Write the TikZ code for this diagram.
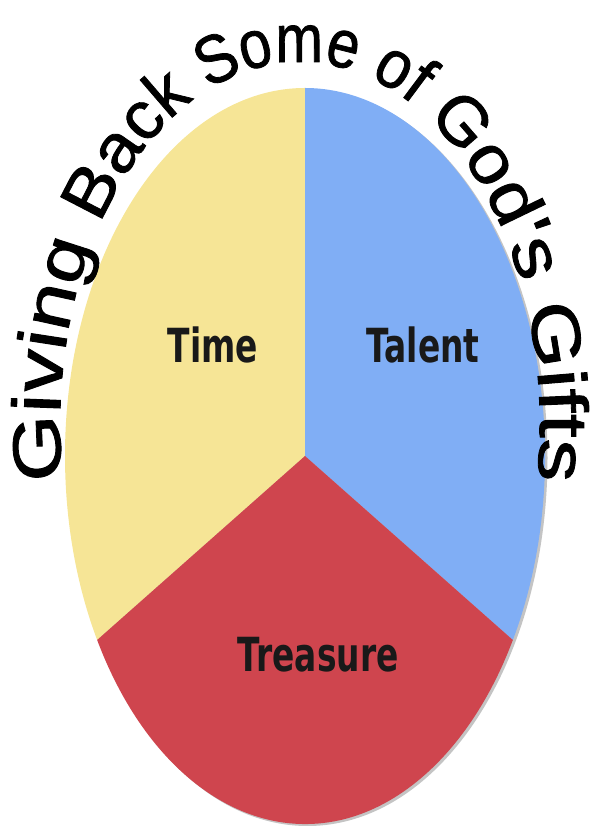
\documentclass[tikz,border=0pt]{standalone}
\usepackage{fontspec}
\setmainfont{Liberation Sans}
\newfontfamily\labfont{DejaVu Sans}
\newfontfamily\arcfont{Liberation Sans}[Ligatures=TeXOff, FakeBold=1.2]
\usetikzlibrary{calc}
\definecolor{timec}{HTML}{F6E596}
\definecolor{talentc}{HTML}{80AEF5}
\definecolor{treasc}{HTML}{CF454E}
\definecolor{shadowc}{HTML}{C4C4C4}
\tikzset{
  lab/.style={anchor=base, inner sep=0pt, font=\labfont\bfseries\fontsize{47}{47}\selectfont, text=black!90},
  arcl/.style={anchor=base, inner sep=0pt, font=\arcfont\fontsize{68}{68}\selectfont, text=black},
  slice/.style={draw=none}
}
\def\spc{-}
\begin{document}
\begin{tikzpicture}[x=1pt,y=1pt]
\useasboundingbox (0,0) rectangle (592,833);
\coordinate (C) at (305,377);
% shadow
\fill[shadowc] ($(C)+(2.5,-2)$) ellipse[x radius=240, y radius=368];
% slices
\fill[timec,slice] (C) -- ($(C)+(90:240 and 368)$) arc[start angle=90, end angle=210, x radius=240, y radius=368] -- cycle;
\fill[talentc,slice] (C) -- ($(C)+(-30:240 and 368)$) arc[start angle=-30, end angle=90, x radius=240, y radius=368] -- cycle;
\fill[treasc,slice] (C) -- ($(C)+(210:240 and 368)$) arc[start angle=210, end angle=330, x radius=240, y radius=368] -- cycle;
% labels
\node[lab] (time) at (213,470) {\scalebox{0.70}[1]{Time}};
\node[lab] (talent) at (423,470) {\scalebox{0.70}[1]{Talent}};
\node[lab] (treasure) at (318,161) {\scalebox{0.70}[1]{Treasure}};
% arched title, letters spread by ellipse angle
\gdef\cum{0}
\foreach \ch/\w [count=\i] in {G/.778, i/.222, v/.5, i/.222, n/.556, g/.556, -/.278,
  B/.667, a/.556, c/.5, k/.5, -/.278, S/.667, o/.556, m/.833, e/.556, -/.278,
  o/.556, f/.278, -/.278, G/.778, o/.556, d/.556, '/.191, s/.5, -/.278,
  G/.778, i/.222, f/.278, t/.278, s/.5}{
  \pgfmathsetmacro\ucen{\cum+\w/2}
  \pgfmathsetmacro\tha{90+(7.265-\ucen)*13.6}
  \pgfmathsetmacro\pxx{300+240*cos(\tha)}
  \pgfmathsetmacro\pyy{408+363*sin(\tha)}
  \pgfmathsetmacro\phia{atan2(-3.63*cos(\tha),2.40*sin(\tha))}
  \pgfmathsetmacro\scl{veclen(2.40*sin(\tha),3.63*cos(\tha))*100*0.237365/68}
  \ifx\ch\spc\else
    \node[arcl, rotate=\phia] (t\i) at (\pxx,\pyy) {\scalebox{\scl}[1]{\ch}};
  \fi
  \pgfmathsetmacro\ncum{\cum+\w}
  \xdef\cum{\ncum}
}
\end{tikzpicture}
\end{document}
